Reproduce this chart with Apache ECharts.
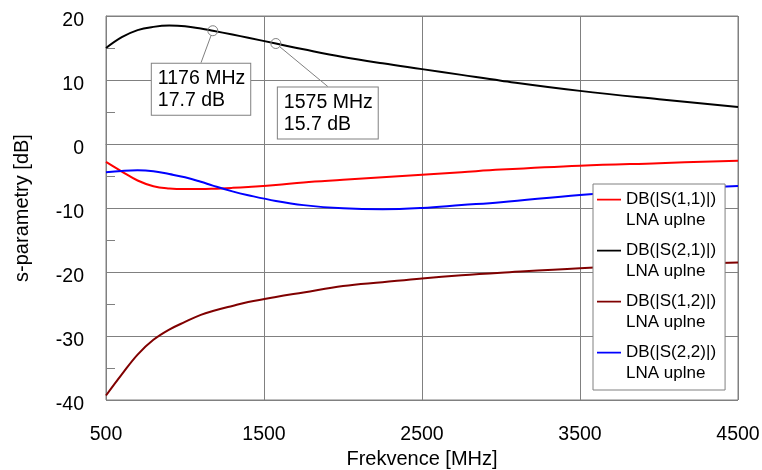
<!DOCTYPE html>
<html>
<head>
<meta charset="utf-8">
<script src="https://cdn.jsdelivr.net/npm/echarts@6/dist/echarts.min.js"></script>
<style>
  html, body { margin: 0; padding: 0; background: #fff; }
  #chart { width: 762px; height: 470px; }
</style>
</head>
<body>
<div id="chart"></div>
<script>
// Frequency sweep points [MHz]
var freq = [500, 600, 700, 800, 900, 1000, 1100, 1176, 1300, 1400, 1575, 1750, 2000, 2250, 2500, 2750, 3000, 3500, 4000, 4500];

// S-parameters of the complete LNA [dB]
var s11 = [-2.8, -4.3, -5.7, -6.6, -6.95, -7.05, -7.05, -7.0, -6.85, -6.7, -6.4, -6.0, -5.6, -5.2, -4.8, -4.4, -4.0, -3.4, -3.0, -2.6];
var s21 = [15.0, 16.7, 17.8, 18.3, 18.5, 18.4, 18.05, 17.7, 17.1, 16.6, 15.7, 14.8, 13.6, 12.6, 11.7, 10.8, 9.9, 8.3, 7.0, 5.8];
var s12 = [-39.3, -36.0, -32.9, -30.6, -29.0, -27.8, -26.7, -26.1, -25.3, -24.7, -23.9, -23.2, -22.2, -21.6, -21.0, -20.5, -20.1, -19.4, -18.9, -18.5];
var s22 = [-4.4, -4.2, -4.1, -4.25, -4.7, -5.2, -5.9, -6.5, -7.4, -8.0, -8.9, -9.55, -10.05, -10.2, -10.0, -9.55, -9.1, -7.95, -7.1, -6.55];

// Marked points on S21 (GPS L5 and L1)
var markerFreq = [1176, 1575];
var markerDb = [17.7, 15.7];

// Series names and axis ticks
var seriesNames = ['DB(|S(1,1)|)\nLNA uplne', 'DB(|S(2,1)|)\nLNA uplne', 'DB(|S(1,2)|)\nLNA uplne', 'DB(|S(2,2)|)\nLNA uplne'];
var seriesColors = ['#ff0000', '#000000', '#800000', '#0000ff'];
var xTicks = { min: 500, max: 4500, step: 1000 };
var yTicks = { min: -40, max: 20, step: 10 };

// Offset of each marker box's top-left corner from its marker centre
var boxOffsets = [[-61, 33], [2, 44]];

var FONT = "'Liberation Sans', Arial, sans-serif";
var GRID_COLOR = '#808080';

function pairs(values) {
  return freq.map(function (f, i) { return [f, values[i]]; });
}

var chart = echarts.init(document.getElementById('chart'), null, { renderer: 'canvas' });

var lineSeries = [s11, s21, s12, s22].map(function (vals, i) {
  return {
    name: seriesNames[i],
    type: 'line',
    data: pairs(vals),
    smooth: 0.4,
    symbol: 'none',
    color: seriesColors[i],
    lineStyle: { width: 2, color: seriesColors[i] },
    z: 3
  };
});

var markerSeries = {
  name: 'marker',
  type: 'scatter',
  data: markerFreq.map(function (f, i) { return [f, markerDb[i]]; }),
  symbol: 'circle',
  symbolSize: 10,
  silent: true,
  z: 5,
  itemStyle: { color: 'rgba(255,255,255,0)', borderColor: GRID_COLOR, borderWidth: 1, opacity: 1 },
  label: {
    show: true,
    formatter: function (p) { return p.value[0] + ' MHz\n' + p.value[1].toFixed(1) + ' dB'; },
    fontFamily: FONT,
    fontSize: 19.5,
    lineHeight: 22,
    color: '#000',
    opacity: 1,
    backgroundColor: '#fff',
    borderColor: GRID_COLOR,
    borderWidth: 1,
    padding: [4, 5, 3, 6],
    align: 'left',
    verticalAlign: 'top'
  },
  labelLine: { show: true, lineStyle: { color: GRID_COLOR, width: 1, opacity: 1 } },
  labelLayout: function (p) {
    var off = boxOffsets[p.dataIndex];
    return {
      x: p.rect.x + p.rect.width / 2 + off[0],
      y: p.rect.y + p.rect.height / 2 + off[1],
      align: 'left',
      verticalAlign: 'top'
    };
  }
};

var option = {
  backgroundColor: '#fff',
  animation: false,
  textStyle: { fontFamily: FONT },
  grid: {
    left: 106, right: 24, top: 16, bottom: 70,
    containLabel: false,
    outerBoundsMode: 'none',
    show: true, borderColor: GRID_COLOR, borderWidth: 1, backgroundColor: 'transparent'
  },
  legend: {
    orient: 'vertical',
    left: 593, top: 184,
    padding: [5, 9, 6, 4],
    itemGap: 9,
    itemWidth: 24,
    itemHeight: 42,
    backgroundColor: '#fff',
    borderColor: GRID_COLOR,
    borderWidth: 1,
    icon: 'path://M0,0h0.01v0.01h-0.01z M0,9.8h24v1.6h-24z M0,41.99h0.01v0.01h-0.01z',
    itemStyle: { borderWidth: 0 },
    textStyle: { fontFamily: FONT, fontSize: 17, lineHeight: 21, color: '#000' },
    data: seriesNames,
    selectedMode: false
  },
  xAxis: {
    type: 'value',
    min: xTicks.min, max: xTicks.max, interval: xTicks.step,
    name: 'Frekvence [MHz]',
    nameLocation: 'middle',
    nameGap: 49,
    nameTextStyle: { fontFamily: FONT, fontSize: 20, color: '#000' },
    axisLine: { show: true, lineStyle: { color: GRID_COLOR, width: 1 } },
    axisTick: { show: false },
    axisLabel: {
      fontFamily: FONT, fontSize: 19.5, color: '#000', margin: 25,
      formatter: function (v) { return String(v); }
    },
    splitLine: { show: true, lineStyle: { color: GRID_COLOR, width: 1 } }
  },
  yAxis: {
    type: 'value',
    min: yTicks.min, max: yTicks.max, interval: yTicks.step,
    name: 's-parametry [dB]',
    nameLocation: 'middle',
    nameGap: 74,
    nameTextStyle: { fontFamily: FONT, fontSize: 20, color: '#000' },
    axisLine: { show: true, lineStyle: { color: GRID_COLOR, width: 1 } },
    axisTick: { show: false, inside: true },
    minorTick: { show: true, splitNumber: 2, length: 9, lineStyle: { color: GRID_COLOR, width: 1 } },
    axisLabel: {
      fontFamily: FONT, fontSize: 19.5, color: '#000', margin: 22,
      formatter: function (v) { return '{v|' + v + '}'; },
      rich: { v: { fontFamily: FONT, fontSize: 19.5, color: '#000', padding: [10, 0, 0, 0] } }
    },
    splitLine: { show: true, lineStyle: { color: GRID_COLOR, width: 1 } }
  },
  series: lineSeries.concat([markerSeries])
};

chart.setOption(option);
</script>
</body>
</html>
